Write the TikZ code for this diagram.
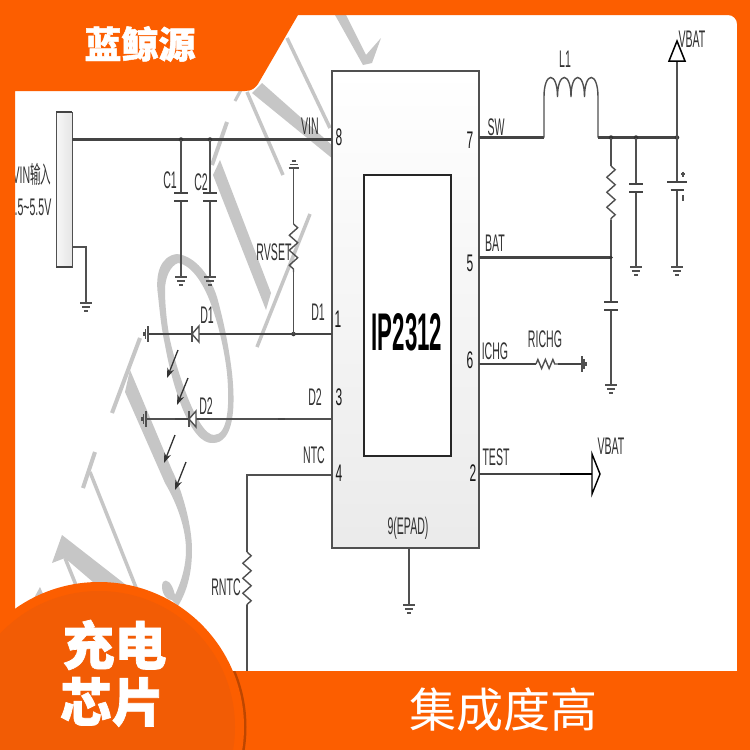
\documentclass[tikz,border=0pt]{standalone}
\usepackage{fontspec}
\setmainfont{Liberation Sans}
\newfontfamily\cjk[BoldFeatures={FakeBold=1.3}]{Noto Sans CJK SC}
\usetikzlibrary{decorations.pathmorphing,calc,arrows.meta}
\definecolor{brand}{HTML}{FC5E00}
\definecolor{brandd}{HTML}{F25C05}
\definecolor{wire}{HTML}{505050}
\definecolor{wm}{HTML}{C6C6C6}
\tikzset{
  x=1pt,y=-1pt,
  wire/.style={draw=wire,line width=1.4pt},
  fat/.style={draw=wire!85!black,line width=2.2pt},
  lab/.style={inner sep=0pt,text=black!80,font=\fontsize{24}{24}\selectfont,xscale=.44},
  pinno/.style={inner sep=0pt,text=black!90,font=\fontsize{24}{24}\selectfont,xscale=.5},
  wmfill/.style={fill=wm,draw=none},
  wmline/.style={draw=wm,line width=3.5pt},
  dot/.style={circle,fill=black!80,inner sep=0pt,minimum size=4.5pt},
  gnd/.pic={\draw[wire] (-6,0)--(6,0) (-4,4)--(4,4) (-2,8)--(2,8);},
  gndup/.pic={\draw[wire] (-5,0)--(5,0) (-4,-3.5)--(4,-3.5) (-2,-7)--(2,-7);},
  gndl/.pic={\draw[wire] (0,-8)--(0,8) (-2.5,-5)--(-2.5,5) (-4,-2)--(-4,2);},
  gndr/.pic={\draw[wire] (0,-8)--(0,8) (2,-5)--(2,5) (4,-2)--(4,2);},
  capv/.pic={\draw[fat] (-7,-4)--(7,-4) (-7,4)--(7,4);},
  photon/.style={draw=black!80,line width=1.3pt,-{Stealth[length=10pt,width=7pt]}},
  rz/.style={wire,decoration={zigzag,amplitude=4.2pt,segment length=15pt},decorate},
  rzh/.style={wire,decoration={zigzag,amplitude=4.5pt,segment length=7.5pt},decorate},
}
\begin{document}
\begin{tikzpicture}
\useasboundingbox (0,0) rectangle (750,750);
\fill[white] (0,0) rectangle (750,750);
% watermark
\fill[wmfill] (335,15)--(346,15)--(366,55)--(381,38)--(372,63)--(363,65)--cycle;
\draw[wmline] (287,38)--(330,128);
\fill[wmfill] (262,83)--(333,146)--(333,159)--(252,93)--cycle;
\draw[wmline] (247,92)--(283,175);
\draw[wmline,line width=3pt] (241,90)--(235,101);
\draw[wmline,line width=4pt] (227,122)--(212,165);
\fill[wmfill] (213,175)--(220,160)--(271,293)--(266,310)--cycle;
\draw[wmline] (310,214)--(257,347);
% loop
\fill[wmfill] (177,254) .. controls (160,256) and (155,275) .. (158,295)
  .. controls (160,315) and (162,332) .. (165,345)
  .. controls (172,385) and (190,445) .. (213,443)
  .. controls (233,443) and (236,410) .. (232,373)
  .. controls (228,340) and (222,315) .. (217,297)
  .. controls (210,275) and (195,256) .. (177,254)
  -- (178,263) .. controls (192,265) and (205,285) .. (213,310)
  .. controls (220,330) and (225,355) .. (227,373)
  .. controls (230,405) and (228,435) .. (214,435)
  .. controls (198,435) and (178,375) .. (170,340)
  .. controls (167,325) and (165,305) .. (165,290)
  .. controls (165,278) and (170,266) .. (178,263) -- cycle;
% S stroke
\draw[wmline,line width=4pt] (140,338)--(112,413);
\fill[wmfill] (130,370) -- (172,470) .. controls (182,490) and (192,525) .. (192,550)
  .. controls (192,570) and (188,590) .. (178,606)
  -- (172,600) .. controls (164,600) and (160,588) .. (163,582) .. controls (166,578) and (172,582) .. (175,595)
  .. controls (182,580) and (186,565) .. (186,550)
  .. controls (186,530) and (178,505) .. (165,483)
  -- (125,392) -- cycle;
% N
\draw[wmline,line width=4pt] (95,452)--(83,488);
\draw[wmline] (90,472)--(137,590);
\fill[wmfill] (62,535)--(130,588)--(100,588)--(65,558)--(52,563)--cycle;
\draw[wmline] (65,558)--(78,590);
\fill[wmfill] (40,587)--(33,600)--(44,596)--cycle;

% IC
\shade[top color=white,bottom color=black!8,draw=wire,line width=1.5pt] (332,71) rectangle (479,548);
\node[draw=black!85,fill=white,line width=1.6pt,minimum width=87pt,minimum height=281pt,inner sep=0pt] (core) at (407.5,315.5) {};
\node[inner sep=0pt,font=\fontsize{53}{53}\selectfont\bfseries,xscale=.42,text=black] (chip) at (407,332) {IP2312};
% coordinates
\coordinate (pin8) at (332,139.5);\coordinate (pin1) at (332,334);\coordinate (pin3) at (332,419);\coordinate (pin4) at (332,475);
\coordinate (pin7) at (479,137.5);\coordinate (pin5) at (479,257.5);\coordinate (pin6) at (479,364);\coordinate (pin2) at (479,474);
\coordinate (pin9) at (409,548);
% connector
\shade[left color=black!3,right color=black!10] (56,112) rectangle (72,267);
\draw[wire,line width=1pt] (56,267)--(56,112)--(72,112)--(72,267)--cycle;
\draw[fat] (56,112)--(72,112) (56,267)--(72,267);
\coordinate (conA) at (72,139.5);\coordinate (conB) at (72,247);
\coordinate (g1) at (86,303);
\draw[wire] (conB)-|(g1);\pic at (g1) {gnd};
% VIN
\draw[fat] (conA)--(pin8);
\coordinate (j1) at (181,139.5);\coordinate (j2) at (210,139.5);
\node[dot] at (j1) {};\node[dot] at (j2) {};
\coordinate (g2) at (181,277);\coordinate (g3) at (210,277);
\draw[wire] (j1)--(181,193) (181,201)--(g2);
\draw[wire] (j2)--(210,193) (210,201)--(g3);
\pic at (181,197) {capv};\pic at (210,197) {capv};
\pic at (g2) {gnd};\pic at (g3) {gnd};
% D1
\coordinate (jd1) at (293.5,334);\coordinate (gd1) at (148,334);
\coordinate (gr) at (293.5,168);\coordinate (rt) at (293.5,224);\coordinate (rb) at (293.5,272);
\node[dot] at (jd1) {};
\draw[fat] (pin1)--(jd1)--(198,334) (192,334)--(gd1);
\draw[wire,fill=white] (199,326)--(192,334)--(199,342)--cycle;
\draw[wire] (192,326)--(192,342);
\pic at (gd1) {gndl};
\draw[wire] (gr)--(rt) (rb)--(jd1);
\draw[rz] (rt)--(rb);
\pic at (gr) {gndup};
% D2
\coordinate (gd2) at (146,419);
\draw[wire] (pin3)--(196,419) (189,419)--(gd2);
\draw[fat] (175,419)--(189,419) (196,419)--(210,419) (278,419)--(285,419);
\draw[wire,fill=white] (196,411)--(189,419)--(196,427)--cycle;
\draw[wire] (189,411)--(189,427);
\pic at (gd2) {gndl};
\coordinate (p1a) at (178,350);\coordinate (p1b) at (167,378);
\coordinate (p2a) at (188,378);\coordinate (p2b) at (177,405);
\coordinate (p3a) at (175,435);\coordinate (p3b) at (164,463);
\coordinate (p4a) at (186,462);\coordinate (p4b) at (175,490);
\draw[photon] (p1a)--(p1b);\draw[photon] (p2a)--(p2b);\draw[photon] (p3a)--(p3b);\draw[photon] (p4a)--(p4b);
% NTC
\coordinate (nc) at (247,475);\coordinate (nt) at (247,552);\coordinate (nb) at (247,605);\coordinate (ne) at (247,672);
\draw[wire] (pin4)--(nc)--(nt) (nb)--(ne);
\draw[rz] (nt)--(nb);
% SW / L1
\coordinate (l1a) at (544,137.5);\coordinate (l1b) at (598,137.5);
\coordinate (js) at (611,137.5);\coordinate (jc) at (636,137.5);\coordinate (jb) at (677,137.5);
\draw[fat] (pin7)--(l1a);
\draw[wire] (l1a)--(544,97) .. controls (544,71) and (557.5,71) .. (557.5,97)
  (557.5,97) .. controls (557.5,71) and (571,71) .. (571,97)
  (571,97) .. controls (571,71) and (584.5,71) .. (584.5,97)
  (584.5,97) .. controls (584.5,71) and (598,71) .. (598,97)--(l1b);
\draw[fat] (l1b)--(jb);
\node[dot] at (js) {};\node[dot] at (jc) {};\node[dot] at (jb) {};
% right branch
\coordinate (rs1) at (611,166);\coordinate (rs2) at (611,220);\coordinate (jbat) at (611,257.5);\coordinate (g5) at (611,385);
\draw[wire] (js)--(rs1) (rs2)--(jbat)--(611,302) (611,310)--(g5);
\draw[rz] (rs1)--(rs2);
\pic at (611,306) {capv};\pic at (g5) {gnd};
\draw[fat] (pin5)--(jbat);\node[dot,minimum size=3.5pt] at (jbat) {};
\coordinate (g6) at (636,267);\coordinate (g7) at (677,267);
\draw[wire] (jc)--(636,184) (636,192)--(g6);
\pic at (636,188) {capv};\pic at (g6) {gnd};
\draw[wire] (jb)--(677,182) (677,190)--(g7);
\draw[fat] (667,182)--(687,182) (670.5,190)--(683.5,190);
\draw[wire] (683,171.5)--(683,177) (681,174)--(685,174) (683,195)--(683,201);
\pic at (g7) {gnd};
\coordinate (vb) at (677,61);
\draw[wire] (jb)--(vb);
\draw[draw=black,line width=1.5pt,fill=white] (669,61)--(677,41)--(685,61)--cycle;
% ICHG
\coordinate (ra) at (536,364);\coordinate (rc) at (558,364);\coordinate (g8) at (582,364);
\draw[fat] (pin6)--(ra) (rc)--(g8);
\draw[rzh] (ra)--(rc);
\pic at (g8) {gndr};
% TEST
\coordinate (tm) at (560,474);\coordinate (tt) at (592,474);
\draw[fat] (pin2)--(tm);
\draw[draw=black,line width=2pt] (tm)--(tt);
\draw[draw=black,line width=1.4pt,fill=white] (592,454)--(600,474)--(592,494)--cycle;
% EPAD
\coordinate (g9) at (409,605);
\draw[wire] (pin9)--(g9);\pic at (g9) {gnd};
% labels
\node[lab] (lvin) at (310,126) {VIN};
\node[lab] (lc1) at (170,180) {C1};
\node[lab] (lc2) at (201,182) {C2};
\node[lab] (lrv) at (274,252) {RVSET};
\node[lab] (ld1a) at (207,315) {D1};
\node[lab] (ld1b) at (318,312) {D1};
\node[lab] (ld2a) at (206,406) {D2};
\node[lab] (ld2b) at (315,397) {D2};
\node[lab] (lntc) at (314,455) {NTC};
\node[lab] (lrn) at (226,587) {RNTC};
\node[lab] (lsw) at (496,127) {SW};
\node[lab] (lbat) at (495,243) {BAT};
\node[lab] (lich) at (495,351) {ICHG};
\node[lab] (lric) at (545,339) {RICHG};
\node[lab] (ltest) at (496,457) {TEST};
\node[lab] (lv2) at (611,446) {VBAT};
\node[lab] (lv1) at (692,39) {VBAT};
\node[lab] (ll1) at (565,59) {L1};
\node[lab] (lepad) at (408,528) {9(EPAD)};
\node[lab] (lin1) at (32,174) {VIN{\cjk 输入}};
\node[lab] (lin2) at (33,207) {.5\textasciitilde5.5V};
\node[pinno] (p8) at (339,137) {8};
\node[pinno] (p1) at (338,319) {1};
\node[pinno] (p3) at (339,397) {3};
\node[pinno] (p4) at (339,473) {4};
\node[pinno] (p7) at (470,140) {7};
\node[pinno] (p5) at (470,263) {5};
\node[pinno] (p6) at (470,360) {6};
\node[pinno] (p2) at (473,473) {2};
% frame
\fill[brand,even odd rule] (0,0) rectangle (750,750)
  (15,91)--(245,91) .. controls (252,91) and (255,88) .. (258,84)--(298,15)--(728,15) .. controls (733,15) and (737,19) .. (737,24)--(737,671)--(15,671)--cycle;
% circle
\begin{scope}
\clip (200,671) rectangle (260,750);
\fill[black!25!brand] (100.5,727) circle (146pt);
\end{scope}
\fill[brand] (99,727) circle (145pt);
\fill[brandd] (99,727) circle (136pt);
% titles
\node[inner sep=0pt,text=white,font=\cjk\bfseries\fontsize{37}{37}\selectfont] (t1) at (140,44) {蓝鲸源};
\node[inner sep=0pt,text=white,font=\cjk\bfseries\fontsize{52}{52}\selectfont] (t2) at (114.5,645) {充电};
\node[inner sep=0pt,text=white,font=\cjk\bfseries\fontsize{52}{52}\selectfont] (t3) at (112,702) {芯片};
\node[inner sep=0pt,text=white,font=\cjk\fontsize{47}{47}\selectfont] (t4) at (503.5,710) {集成度高};
\end{tikzpicture}
\end{document}
